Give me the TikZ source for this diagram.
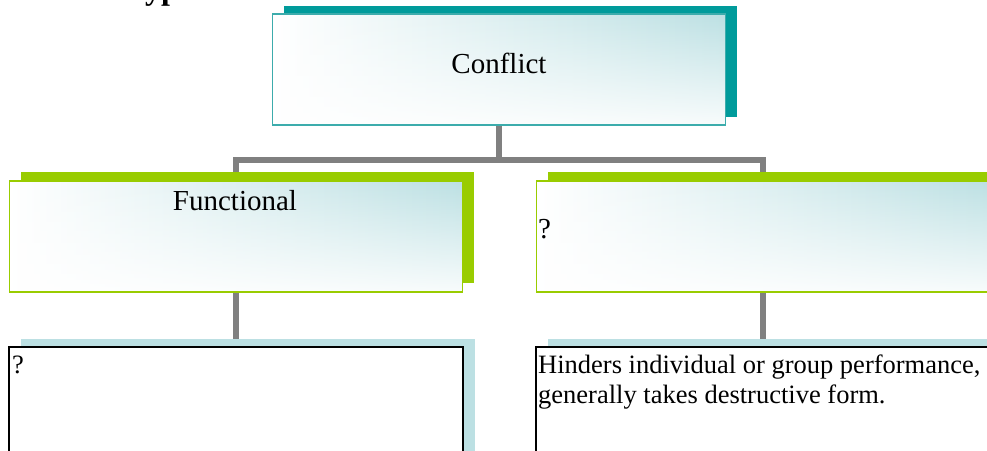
\documentclass[tikz,border=0pt]{standalone}
\usepackage{fontspec}
\setmainfont{Liberation Serif}
\usetikzlibrary{positioning,shadows,fadings,backgrounds}

\definecolor{tealshadow}{RGB}{0,155,155}
\definecolor{tealline}{RGB}{60,172,172}
\definecolor{limegreen}{RGB}{153,204,0}
\definecolor{paleblue}{RGB}{188,224,227}
\definecolor{linkgray}{RGB}{128,128,128}

\tikzfading[name=fadedown, top color=transparent!100, middle color=transparent!100, bottom color=transparent!10]

\tikzset{
  panel/.style={rectangle, inner sep=0pt, minimum width=453pt, minimum height=111pt,
    preaction={left color=white, middle color=paleblue!55, right color=paleblue},
    preaction={fill=white, path fading=fadedown}, line width=1.5pt},
  toppanel/.style={drop shadow={shadow xshift=11pt, shadow yshift=8pt, fill=tealshadow, opacity=1},
    panel, draw=tealline},
  typepanel/.style={drop shadow={shadow xshift=11pt, shadow yshift=9pt, fill=limegreen, opacity=1},
    panel, draw=limegreen},
  note/.style={drop shadow={shadow xshift=12pt, shadow yshift=8pt, fill=paleblue, opacity=1},
    rectangle, inner sep=0pt, minimum width=454pt, minimum height=150pt,
    fill=white, draw=black, line width=1.8pt},
  heading/.style={inner sep=0pt, anchor=base, font=\fontsize{29}{34}\selectfont},
  notetext/.style={inner sep=0pt, font=\fontsize{26.5}{30}\selectfont},
  link/.style={draw=linkgray, line width=5.5pt}
}

\begin{document}
\begin{tikzpicture}[x=1pt, y=-1pt]
  \useasboundingbox (0,0) rectangle (987,450);

  \node[inner sep=0pt, anchor=base west, font=\fontsize{32}{38}\selectfont\bfseries] (title) at (126,-1) {Types};

  % boxes
  \node[toppanel] (conflict) at (499,69.5) {};
  \node[typepanel] (functional) at (236,236.5) {};
  \node[typepanel] (dysfunctional) at (763,236.5) {};
  \node[note] (functionalnote) at (236,422) {};
  \node[note] (dysfunctionalnote) at (763,422) {};

  % texts
  \node[heading] (conflictlabel) at (499,73) {Conflict};
  \node[heading] (functionallabel) at (235,210) {Functional};
  \node[heading, anchor=base west] (dysfunctionallabel) at (538,238) {?};
  \node[notetext, anchor=base west] (functionaltext) at (12,373) {?};
  \node[notetext, anchor=north west, align=left] (dysfunctionaltext) at (538,355)
    {Hinders individual or group performance,\\generally takes destructive form.};

  % tree lines
  \begin{scope}[on background layer]
    \coordinate (split) at (499,160);
    \draw[link] (conflict) -- (split) -| (functional);
    \draw[link] (split) -| (dysfunctional);
    \draw[link] (functional) -- (functionalnote);
    \draw[link] (dysfunctional) -- (dysfunctionalnote);
  \end{scope}
\end{tikzpicture}
\end{document}
